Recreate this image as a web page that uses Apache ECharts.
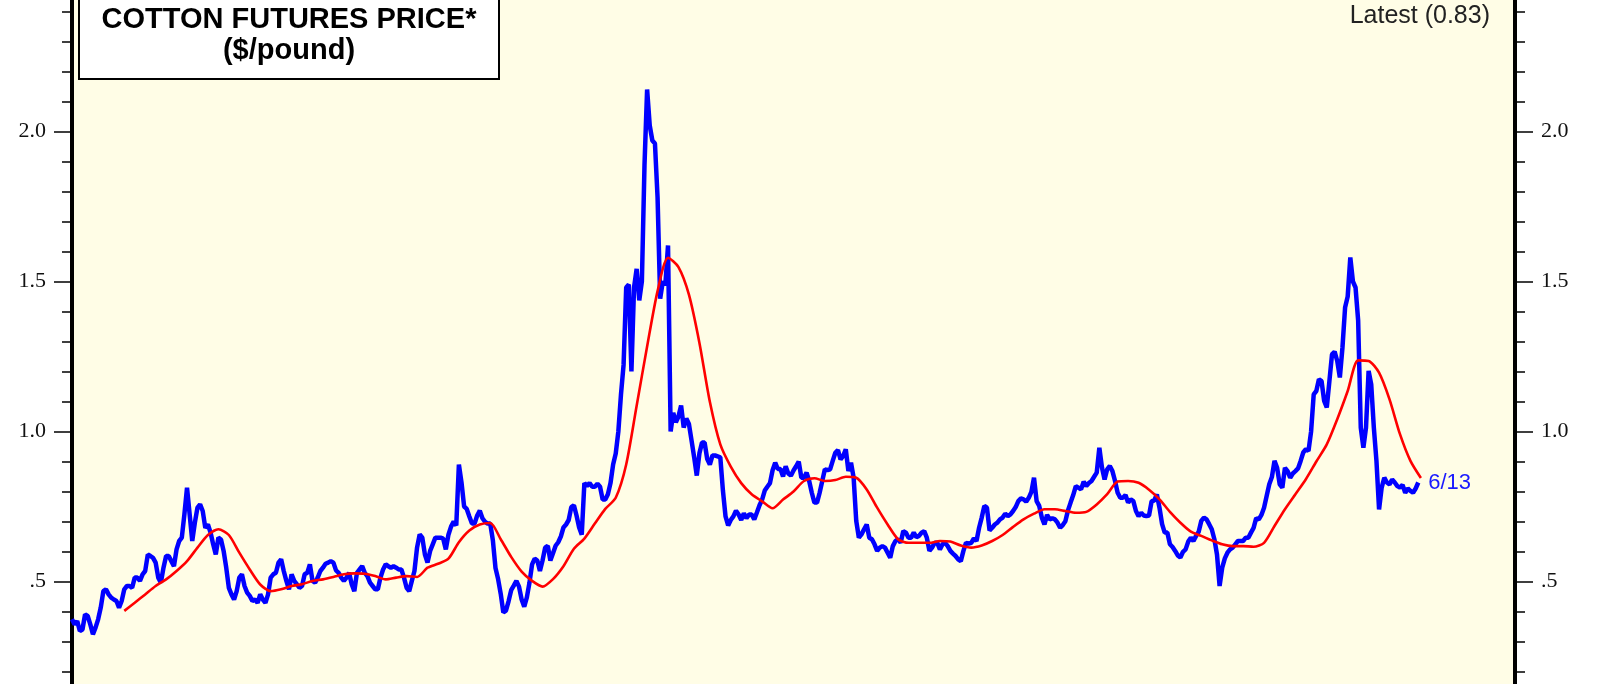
<!DOCTYPE html>
<html><head><meta charset="utf-8">
<script src="https://cdn.jsdelivr.net/npm/echarts@6/dist/echarts.min.js"></script>
<style>html,body{margin:0;padding:0;background:#fff;}#c{width:1601px;height:684px;}</style>
</head><body><div id="c"></div>
<script>
// ---- data ----
const startYear = 2002;          // first price point (start of Jan 2002)
const pointsPerYear = 24;        // semi-monthly readings
const priceValues = [
 0.374,0.357,0.368,0.335,0.340,0.390,0.385,0.357,0.324,0.346,0.374,0.413,0.468,0.474,0.457,0.446,0.440,0.435,0.413,0.435,0.474,0.485,0.485,0.479,
 0.513,0.513,0.502,0.524,0.535,0.590,0.585,0.579,0.563,0.513,0.496,0.546,0.585,0.585,0.568,0.551,0.607,0.635,0.646,0.724,0.813,0.724,0.635,0.696,
 0.746,0.757,0.735,0.679,0.690,0.663,0.624,0.590,0.646,0.640,0.602,0.546,0.479,0.457,0.440,0.468,0.513,0.524,0.485,0.463,0.452,0.435,0.440,0.429,
 0.457,0.440,0.429,0.457,0.513,0.524,0.529,0.563,0.574,0.535,0.502,0.474,0.524,0.502,0.491,0.479,0.485,0.524,0.529,0.557,0.502,0.496,0.513,0.535,
 0.546,0.559,0.563,0.568,0.563,0.537,0.529,0.513,0.502,0.513,0.529,0.491,0.468,0.529,0.540,0.551,0.529,0.518,0.496,0.485,0.474,0.474,0.513,0.540,
 0.557,0.551,0.546,0.551,0.546,0.540,0.540,0.513,0.479,0.468,0.502,0.535,0.613,0.657,0.646,0.590,0.563,0.602,0.624,0.646,0.646,0.646,0.643,0.607,
 0.656,0.683,0.700,0.687,0.890,0.830,0.750,0.742,0.717,0.693,0.693,0.720,0.736,0.711,0.699,0.693,0.693,0.637,0.545,0.508,0.459,0.397,0.403,0.434,
 0.471,0.486,0.502,0.483,0.440,0.416,0.447,0.496,0.557,0.576,0.570,0.535,0.570,0.613,0.619,0.570,0.594,0.619,0.631,0.650,0.680,0.690,0.705,0.748,
 0.754,0.720,0.680,0.656,0.828,0.818,0.828,0.816,0.816,0.826,0.816,0.773,0.773,0.791,0.828,0.890,0.927,1.000,1.123,1.222,1.480,1.490,1.200,1.480,
 1.542,1.437,1.500,1.887,2.140,2.020,1.970,1.960,1.780,1.443,1.500,1.490,1.620,1.000,1.062,1.031,1.050,1.087,1.013,1.043,1.025,0.970,0.914,0.853,
 0.927,0.963,0.963,0.908,0.890,0.920,0.920,0.917,0.914,0.803,0.717,0.687,0.705,0.717,0.736,0.723,0.705,0.727,0.711,0.723,0.723,0.707,0.730,0.754,
 0.773,0.803,0.816,0.828,0.871,0.896,0.875,0.875,0.850,0.884,0.860,0.853,0.870,0.884,0.900,0.846,0.846,0.863,0.835,0.796,0.763,0.763,0.796,0.835,
 0.874,0.871,0.874,0.902,0.929,0.938,0.907,0.918,0.941,0.868,0.896,0.846,0.702,0.646,0.657,0.674,0.690,0.646,0.641,0.624,0.602,0.613,0.618,0.613,
 0.596,0.579,0.618,0.635,0.641,0.629,0.668,0.663,0.646,0.646,0.663,0.648,0.652,0.663,0.668,0.646,0.602,0.613,0.629,0.629,0.607,0.624,0.629,0.618,
 0.602,0.593,0.585,0.574,0.568,0.602,0.629,0.626,0.629,0.644,0.635,0.679,0.713,0.752,0.746,0.670,0.679,0.690,0.696,0.707,0.713,0.726,0.718,0.724,
 0.735,0.748,0.768,0.777,0.774,0.766,0.779,0.799,0.846,0.768,0.752,0.713,0.690,0.722,0.707,0.711,0.707,0.696,0.679,0.688,0.701,0.737,0.763,0.788,
 0.818,0.813,0.807,0.833,0.818,0.828,0.835,0.849,0.863,0.946,0.880,0.840,0.874,0.885,0.868,0.835,0.796,0.779,0.779,0.788,0.763,0.774,0.768,0.735,
 0.718,0.729,0.720,0.718,0.720,0.768,0.770,0.790,0.746,0.691,0.663,0.663,0.624,0.615,0.602,0.587,0.580,0.599,0.607,0.633,0.646,0.635,0.652,0.666,
 0.702,0.713,0.707,0.691,0.674,0.641,0.590,0.485,0.546,0.577,0.596,0.607,0.613,0.624,0.635,0.635,0.635,0.646,0.646,0.663,0.679,0.711,0.707,0.722,
 0.746,0.785,0.824,0.848,0.902,0.879,0.824,0.813,0.879,0.868,0.846,0.860,0.868,0.877,0.902,0.930,0.941,0.935,1.000,1.124,1.135,1.174,1.168,1.102,
 1.080,1.168,1.257,1.266,1.235,1.180,1.280,1.413,1.450,1.580,1.500,1.480,1.370,1.013,0.946,1.013,1.202,1.157,1.013,0.902,0.740,0.813,0.846,0.830,
 0.824,0.840,0.830,0.818,0.813,0.822,0.796,0.810,0.802,0.796,0.810,0.830
];
const maStartMonth = 10;   // months after startYear
const maStepMonths = 2;
const maValues = [
 0.402,0.429,0.457,0.485,0.507,0.535,0.568,0.613,0.655,0.674,0.655,0.596,
 0.540,0.490,0.468,0.474,0.485,0.491,0.502,0.507,0.515,0.524,0.527,0.526,
 0.518,0.507,0.513,0.518,0.515,0.546,0.559,0.576,0.631,0.670,0.690,0.695,
 0.641,0.582,0.533,0.502,0.483,0.508,0.551,0.609,0.643,0.693,0.742,0.779,
 0.890,1.086,1.283,1.468,1.579,1.548,1.456,1.296,1.099,0.957,0.883,0.828,
 0.791,0.767,0.744,0.773,0.800,0.835,0.844,0.835,0.838,0.849,0.846,0.807,
 0.746,0.690,0.641,0.629,0.629,0.629,0.635,0.633,0.620,0.613,0.620,0.635,
 0.655,0.682,0.707,0.726,0.741,0.741,0.735,0.729,0.732,0.757,0.791,0.833,
 0.835,0.829,0.806,0.774,0.732,0.696,0.666,0.652,0.637,0.624,0.618,0.618,
 0.616,0.629,0.685,0.741,0.791,0.841,0.900,0.957,1.041,1.135,1.237,1.235,
 1.196,1.107,0.991,0.902,0.845
];
const tickValues = [0.5, 1.0, 1.5, 2.0];
const tickLabels = ['.5', '1.0', '1.5', '2.0'];
const titleLines = ['COTTON FUTURES PRICE*', '($/pound)'];
const latestText = 'Latest (0.83)';
const endDateText = '6/13';

// ---- build ----
const priceData = priceValues.map((v, k) => [startYear + k / pointsPerYear, v]);
const maData = maValues.map((v, k) => [startYear + (maStartMonth + k * maStepMonths) / 12, v]);

function labelFor(v) {
  for (let k = 0; k < tickValues.length; k++) {
    if (Math.abs(tickValues[k] - v) < 1e-6) return tickLabels[k];
  }
  return '';
}
function yAxisCfg(pos) {
  return {
    type: 'value', position: pos, min: 0, max: 2.5, interval: 0.5,
    axisLine: { show: true, onZero: false, lineStyle: { color: '#000', width: 4 } },
    axisTick: { show: true, inside: false, length: 18, lineStyle: { color: '#000', width: 1.5 } },
    minorTick: { show: true, splitNumber: 5, length: 10, lineStyle: { color: '#000', width: 1.5 } },
    axisLabel: { show: true, margin: 26, fontFamily: 'Liberation Serif', fontSize: 22, color: '#111', formatter: labelFor },
    splitLine: { show: false }, minorSplitLine: { show: false }
  };
}

const chart = echarts.init(document.getElementById('c'), null, { renderer: 'canvas' });
chart.setOption({
  animation: false,
  backgroundColor: '#ffffff',
  grid: { left: 72, right: 86, top: -18.5, bottom: -47.5, outerBoundsMode: 'none', containLabel: false,
          show: true, backgroundColor: '#FFFDE6', borderWidth: 0 },
  xAxis: { type: 'value', min: 2002, max: 2025, show: false },
  yAxis: [yAxisCfg('left'), yAxisCfg('right')],
  series: [
    {
      type: 'line', data: priceData, showSymbol: false, symbol: 'none',
      lineStyle: { color: '#0000FF', width: 4.5 }, z: 2,
      endLabel: { show: true, formatter: endDateText, color: '#1a1aff', fontSize: 22, fontFamily: 'Liberation Sans', distance: 10 }
    },
    {
      type: 'line', data: maData, showSymbol: false, symbol: 'none', smooth: 0.25,
      lineStyle: { color: '#FF0000', width: 2.6 }, z: 3
    }
  ],
  graphic: [
    { type: 'rect', z: 10, shape: { x: 79, y: -10, width: 420, height: 89 },
      style: { fill: '#ffffff', stroke: '#000', lineWidth: 2 } },
    { type: 'text', z: 11, style: { text: titleLines[0], x: 289, y: 20, textAlign: 'center', textVerticalAlign: 'middle', align: 'center', verticalAlign: 'middle', font: 'bold 29px "Liberation Sans"', fill: '#000' } },
    { type: 'text', z: 11, style: { text: titleLines[1], x: 289, y: 51, textAlign: 'center', textVerticalAlign: 'middle', align: 'center', verticalAlign: 'middle', font: 'bold 29px "Liberation Sans"', fill: '#000' } },
    { type: 'text', z: 11, style: { text: latestText, x: 1490, y: 16, textAlign: 'right', textVerticalAlign: 'middle', align: 'right', verticalAlign: 'middle', font: '25px "Liberation Sans"', fill: '#222' } }
  ]
});
</script>
</body></html>
